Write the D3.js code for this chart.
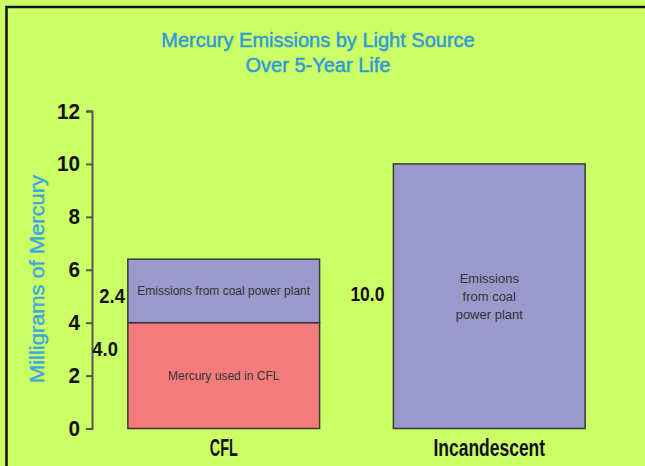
<!DOCTYPE html>
<html>
<head>
<meta charset="utf-8">
<script src="https://cdn.jsdelivr.net/npm/d3@7"></script>
<style>
  html, body { margin: 0; padding: 0; background: #ccff66; }
  text { font-family: "Liberation Sans", Arial, sans-serif; }
</style>
</head>
<body>
<div id="chart"></div>
<script>
// data
var categories = ['CFL', 'Incandescent'];
var usedValues = [4.0, 0];        // mercury used in the lamp
var coalValues = [2.4, 10.0];     // emissions from coal power plant
var tickValues = [0, 2, 4, 6, 8, 10, 12];
var valueLabels = [
  { cat: 'CFL', text: '2.4', at: 5.0, dx: -3 },
  { cat: 'CFL', text: '4.0', at: 3.0, dx: -10 },
  { cat: 'Incandescent', text: '10.0', at: 5.1, dx: -9 }
];
var innerLabels = [
  { cat: 'CFL', lines: ['Emissions from coal power plant'], at: 5.2, size: 12 },
  { cat: 'CFL', lines: ['Mercury used in CFL'], at: 2.0, size: 12 },
  { cat: 'Incandescent', lines: ['Emissions', 'from coal', 'power plant'], at: 5.0, size: 13 }
];

var width = 645, height = 466;

// the original type is narrow, squeeze bold labels to the width seen
var narrow = function(sel, perChar) {
  sel.attr('textLength', function() { return this.textContent.length * perChar; })
    .attr('lengthAdjust', 'spacingAndGlyphs');
};

var svg = d3.select('#chart').append('svg')
  .attr('width', width)
  .attr('height', height);

svg.append('rect')
  .attr('width', width).attr('height', height)
  .attr('fill', '#ccff66');

// frame
svg.append('rect')
  .attr('x', 6.5).attr('y', 7)
  .attr('width', 700).attr('height', 500)
  .attr('fill', 'none')
  .attr('stroke', '#111')
  .attr('stroke-width', 2.5);

// scales
var y = d3.scaleLinear().domain([0, 12]).range([428.5, 111]);
var x = d3.scaleBand().domain(categories).range([92, 621])
  .paddingInner(0.278).paddingOuter(0.135);

// title
var title = svg.append('text')
  .attr('text-anchor', 'middle')
  .attr('fill', '#2f9ad6')
  .attr('stroke', '#2f9ad6')
  .attr('stroke-width', 0.5)
  .attr('font-size', 20);
title.append('tspan').attr('x', 318).attr('y', 47).text('Mercury Emissions by Light Source');
title.append('tspan').attr('x', 318).attr('y', 72).text('Over 5-Year Life');

// y title
svg.append('text')
  .attr('transform', 'translate(44,279) rotate(-90)')
  .attr('text-anchor', 'middle')
  .attr('fill', '#3aa8dd')
  .attr('stroke', '#3aa8dd')
  .attr('stroke-width', 0.4)
  .attr('font-size', 21)
  .attr('textLength', 208)
  .attr('lengthAdjust', 'spacingAndGlyphs')
  .text('Milligrams of Mercury');

// bars
var rows = categories.map(function(c, i) {
  return { cat: c, used: usedValues[i], coal: coalValues[i] };
});

var g = svg.append('g');
rows.forEach(function(d) {
  if (d.used > 0) {
    g.append('rect')
      .attr('x', x(d.cat)).attr('width', x.bandwidth())
      .attr('y', y(d.used)).attr('height', y(0) - y(d.used))
      .attr('fill', '#f47b7b')
      .attr('stroke', '#3a3a3a').attr('stroke-width', 1.5);
  }
  g.append('rect')
    .attr('x', x(d.cat)).attr('width', x.bandwidth())
    .attr('y', y(d.used + d.coal)).attr('height', y(d.used) - y(d.used + d.coal))
    .attr('fill', '#9b99cb')
    .attr('stroke', '#3a3a3a').attr('stroke-width', 1.5);
});

// y axis
var axis = svg.append('g')
  .attr('transform', 'translate(92,0)')
  .call(d3.axisLeft(y).tickValues(tickValues).tickSize(6).tickPadding(6));
axis.select('.domain').attr('stroke', '#555').attr('stroke-width', 2);
axis.selectAll('.tick line').attr('stroke', '#555').attr('stroke-width', 2);
axis.selectAll('.tick text')
  .attr('font-size', 22)
  .attr('font-weight', 'bold')
  .attr('fill', '#111')
  .attr('font-family', '"Liberation Sans", Arial, sans-serif')
  .call(narrow, 11.5);

// category labels
svg.selectAll('.cat')
  .data(categories)
  .enter().append('text')
  .attr('class', 'cat')
  .attr('x', function(d) { return x(d) + x.bandwidth() / 2; })
  .attr('y', 456)
  .attr('text-anchor', 'middle')
  .attr('font-size', 23)
  .attr('font-weight', 'bold')
  .attr('fill', '#111')
  .text(function(d) { return d; })
  .call(narrow, 9.3);

// value labels left of the bars
svg.selectAll('.val')
  .data(valueLabels)
  .enter().append('text')
  .attr('class', 'val')
  .attr('x', function(d) { return x(d.cat) + d.dx; })
  .attr('y', function(d) { return y(d.at); })
  .attr('dy', '0.35em')
  .attr('text-anchor', 'end')
  .attr('font-size', 20)
  .attr('font-weight', 'bold')
  .attr('fill', '#111')
  .text(function(d) { return d.text; })
  .call(narrow, 8.5);

// labels inside the bars
innerLabels.forEach(function(d) {
  var lh = d.size * 1.38;
  var t = svg.append('text')
    .attr('text-anchor', 'middle')
    .attr('font-size', d.size)
    .attr('fill', '#333');
  d.lines.forEach(function(line, i) {
    t.append('tspan')
      .attr('x', x(d.cat) + x.bandwidth() / 2)
      .attr('y', y(d.at) + (i - (d.lines.length - 1) / 2) * lh)
      .attr('dy', '0.35em')
      .text(line);
  });
});
</script>
</body>
</html>
